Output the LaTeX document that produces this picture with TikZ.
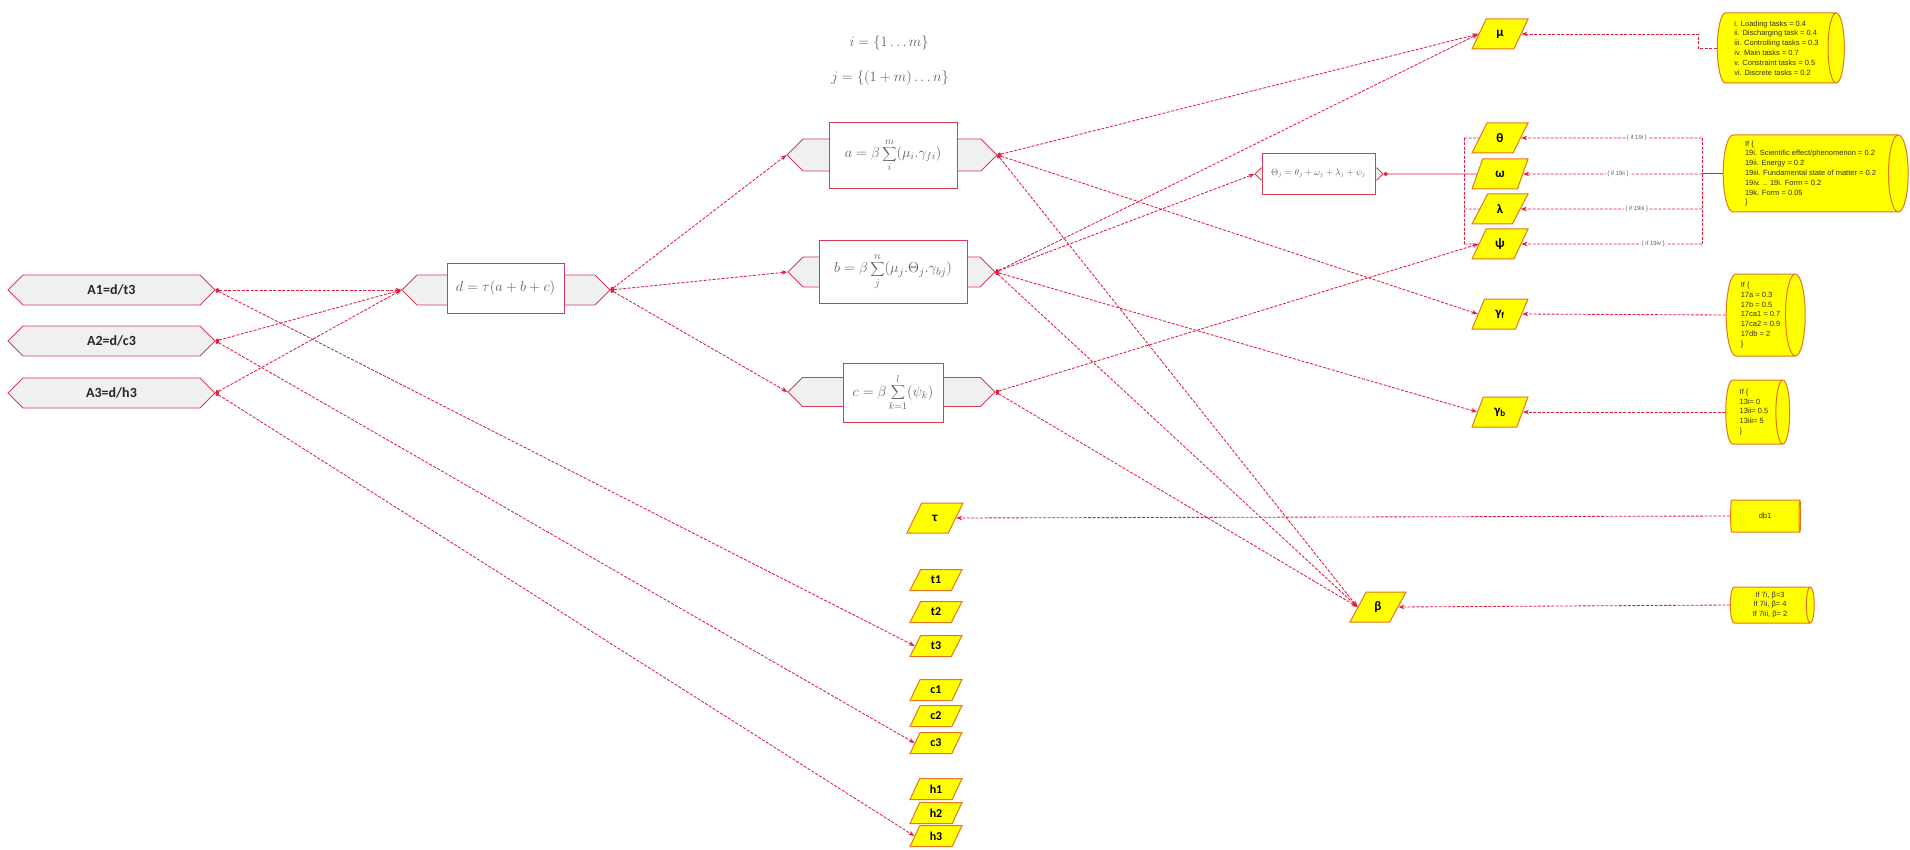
\documentclass[tikz,border=0pt]{standalone}
\usepackage{fontspec}
\newfontfamily\carl{Carlito}
\newfontfamily\libs{Liberation Sans}
\usetikzlibrary{shapes.geometric,shapes.symbols,arrows.meta}
\definecolor{lred}{RGB}{228,28,64}
\definecolor{bred}{RGB}{214,60,90}
\definecolor{lgray}{RGB}{240,240,240}
\definecolor{yel}{RGB}{255,255,0}
\definecolor{orng}{RGB}{228,118,30}
\definecolor{fgray}{RGB}{95,95,95}
\definecolor{ctext}{RGB}{50,50,30}
\tikzset{
  conn/.style={draw=lred, line width=0.85pt, dash pattern=on 3pt off 1.5pt},
  solidconn/.style={draw=lred, line width=0.9pt},
  dotarr/.style={{Circle[length=4pt]}-{Stealth[length=6pt,width=4.5pt]}},
  arr/.style={-{Stealth[length=6pt,width=4.5pt]}},
  hexg/.style={signal, signal to=west and east, draw=bred, fill=lgray, line width=0.8pt, inner sep=0pt},
  fbox/.style={draw=bred, fill=white, line width=0.9pt, inner sep=0pt, text=fgray, font=\fontsize{15}{18}\selectfont},
  albl/.style={font=\carl\bfseries\fontsize{14}{16}\selectfont, text=black!85},
  para/.style={trapezium, trapezium left angle=66, trapezium right angle=114, trapezium stretches=true, draw=orng, fill=yel, line width=1pt, inner sep=0pt, minimum width=56pt, minimum height=30pt, font=\carl\bfseries\fontsize{13}{13}\selectfont},
  spara/.style={para, minimum width=52pt, minimum height=21pt, font=\carl\bfseries\fontsize{12}{12}\selectfont},
  cyl/.style={cylinder, shape aspect=0.3, draw=orng, line width=1pt, cylinder uses custom fill, cylinder body fill=yel, cylinder end fill=yel, inner sep=0pt, align=left, text=ctext, font=\libs\fontsize{7.5}{9.8}\selectfont},
  elbl/.style={fill=white, inner sep=1pt, font=\libs\fontsize{6}{6}\selectfont, text=fgray},
  toplbl/.style={text=fgray, font=\fontsize{14}{14}\selectfont}
}
\begin{document}
\begin{tikzpicture}[x=1pt,y=-1pt]
\useasboundingbox (0,0) rectangle (1910,850);
\fill[white] (0,0) rectangle (1910,850);

% top labels
\node[toplbl] (ieq) at (889,43) {$i=\{1\ldots m\}$};
\node[toplbl] (jeq) at (890,78) {$j=\{(1+m)\ldots n\}$};

% A boxes
\node[hexg, minimum width=207pt, minimum height=30pt, albl] (A1) at (111.5,290) {A1=d/t3};
\node[hexg, minimum width=207pt, minimum height=30pt, albl] (A2) at (111.5,341) {A2=d/c3};
\node[hexg, minimum width=207pt, minimum height=30pt, albl] (A3) at (111.5,393) {A3=d/h3};

% formula boxes
\node[hexg, minimum width=208pt, minimum height=30pt] (dg) at (506,290) {};
\node[fbox, minimum width=117pt, minimum height=50pt] (d) at (505.5,288) {$d=\tau(a+b+c)$};

\node[hexg, minimum width=210pt, minimum height=32pt] (ag) at (892,155) {};
\node[fbox, minimum width=128pt, minimum height=66pt, font=\fontsize{14}{17}\selectfont] (a) at (893,155) {$a=\beta\displaystyle\sum_{i}^{m}(\mu_i.\gamma_{fi})$};

\node[hexg, minimum width=207pt, minimum height=30pt] (bg) at (891.5,272) {};
\node[fbox, minimum width=148pt, minimum height=63pt] (b) at (893,271.5) {$b=\beta\displaystyle\sum_{j}^{n}(\mu_j.\Theta_j.\gamma_{bj})$};

\node[hexg, minimum width=207pt, minimum height=29pt] (cg) at (891.5,392) {};
\node[fbox, minimum width=100pt, minimum height=59pt, font=\fontsize{14}{17}\selectfont] (c) at (893,392.5) {$c=\beta\displaystyle\sum_{k=1}^{l}(\psi_k)$};

\node[hexg, minimum width=128pt, minimum height=12pt] (thg) at (1319,174) {};
\node[fbox, minimum width=113pt, minimum height=41pt, font=\fontsize{9}{10}\selectfont] (th) at (1318.5,173.5) {$\Theta_j=\theta_j+\omega_j+\lambda_j+\psi_j$};

% parameters
\node[para] (mu) at (1500,34) {μ};
\node[para] (theta) at (1500,138) {θ};
\node[para] (omega) at (1500,174) {ω};
\node[para] (lambda) at (1500,209) {λ};
\node[para] (psi) at (1500,244) {ψ};
\node[para] (gf) at (1500,314) {γ\textsubscript{f}};
\node[para] (gb) at (1500,412) {γ\textsubscript{b}};
\node[para] (beta) at (1378,607) {β};
\node[para] (tau) at (935,518) {τ};

\node[spara] (t1) at (936,580) {t1};
\node[spara] (t2) at (936,612) {t2};
\node[spara] (t3) at (936,646) {t3};
\node[spara] (c1) at (936,690) {c1};
\node[spara] (c2) at (936,716) {c2};
\node[spara] (c3) at (936,743) {c3};
\node[spara] (h1) at (936,789) {h1};
\node[spara] (h2) at (936,813) {h2};
\node[spara] (h3) at (936,836) {h3};

% data cylinders (minimum height = length, minimum width = diameter)
\node[cyl, minimum height=127pt, minimum width=70pt] (cmu) at (1776.5,48) {i. Loading tasks = 0.4\\ii. Discharging task = 0.4\\iii. Controlling tasks = 0.3\\iv. Main tasks = 0.7\\v. Constraint tasks = 0.5\\vi. Discrete tasks = 0.2};
\node[cyl, minimum height=185pt, minimum width=77pt] (cth) at (1810.5,173.5) {If \{\\19i. Scientific effect/phenomenon = 0.2\\19ii. Energy = 0.2\\19iii. Fundamental state of matter = 0.2\\19iv. .. 19i. Form = 0.2\\19k. Form = 0.05\\\}};
\node[cyl, minimum height=79pt, minimum width=82pt] (cgf) at (1760.5,315) {If \{\\17a = 0.3\\17b = 0.5\\17ca1 = 0.7\\17ca2 = 0.9\\17db = 2\\\}};
\node[cyl, minimum height=64pt, minimum width=64pt] (cgb) at (1754,412) {If \{\\13i= 0\\13ii= 0.5\\13iii= 5\\\}};
\node[cyl, minimum height=70pt, minimum width=32pt] (cdb) at (1765,516) {db1};
\node[cyl, minimum height=84pt, minimum width=36pt, align=center] (cbe) at (1770,605) {If 7i, β=3\\If 7ii, β= 4\\If 7iii, β= 2};

% connectors A -> d, A -> t3/c3/h3
\draw[conn,dotarr] (A1.east) -- (dg.west);
\draw[conn,dotarr] (A2.east) -- (dg.west);
\draw[conn,dotarr] (A3.east) -- (dg.west);
\draw[conn,dotarr] (A1.east) -- (t3.west);
\draw[conn,dotarr] (A2.east) -- (c3.west);
\draw[conn,dotarr] (A3.east) -- (h3.west);

% d -> a,b,c
\draw[conn,dotarr] (dg.east) -- (ag.west);
\draw[conn,dotarr] (dg.east) -- (bg.west);
\draw[conn,dotarr] (dg.east) -- (cg.west);

% a,b,c -> parameters
\draw[conn,dotarr] (ag.east) -- (mu.west);
\draw[conn,dotarr] (ag.east) -- (gf.west);
\draw[conn,dotarr] (ag.east) -- (beta.west);
\draw[conn,dotarr] (bg.east) -- (mu.west);
\draw[conn,dotarr] (bg.east) -- (thg.west);
\draw[conn,dotarr] (bg.east) -- (gb.west);
\draw[conn,dotarr] (bg.east) -- (beta.west);
\draw[conn,dotarr] (cg.east) -- (psi.west);
\draw[conn,dotarr] (cg.east) -- (beta.west);

% Theta formula bus
\coordinate (vt) at (1464,138);
\coordinate (vl) at (1464,209);
\coordinate (vb) at (1464,244);
\draw[conn] (vt) -- (vb);
\draw[conn] (vt) -- (theta.west);
\draw[conn] (vl) -- (lambda.west);
\draw[conn] (vb) -- (psi.west);
\draw[solidconn,{Circle[length=4pt]}-] (thg.east) -- (omega.west);

% data -> parameters
\coordinate (mubend) at (1698,48);
\draw[conn,arr] (cmu.west) -- (mubend) |- (mu.east);

\coordinate (rt) at (1702,138);
\coordinate (rw) at (1702,174);
\coordinate (rl) at (1702,209);
\coordinate (rb) at (1702,244);
\draw[conn] (rt) -- (rb);
\draw[solidconn] (cth.west) -- (1702,173.5);
\draw[conn,arr] (rt) -- node[elbl, pos=0.36] {\{ if 19i \}} (theta.east);
\draw[conn,arr] (rw) -- node[elbl, pos=0.47] {\{ if 19ii \}} (omega.east);
\draw[conn,arr] (rl) -- node[elbl, pos=0.36] {\{ if 19iii \}} (lambda.east);
\draw[conn,arr] (rb) -- node[elbl, pos=0.27] {\{ if 19iv \}} (psi.east);

\draw[conn,arr] (cgf.west) -- (gf.east);
\draw[conn,arr] (cgb.west) -- (gb.east);
\draw[conn,arr] (cdb.west) -- (tau.east);
\draw[conn,arr] (cbe.west) -- (beta.east);
\end{tikzpicture}
\end{document}
